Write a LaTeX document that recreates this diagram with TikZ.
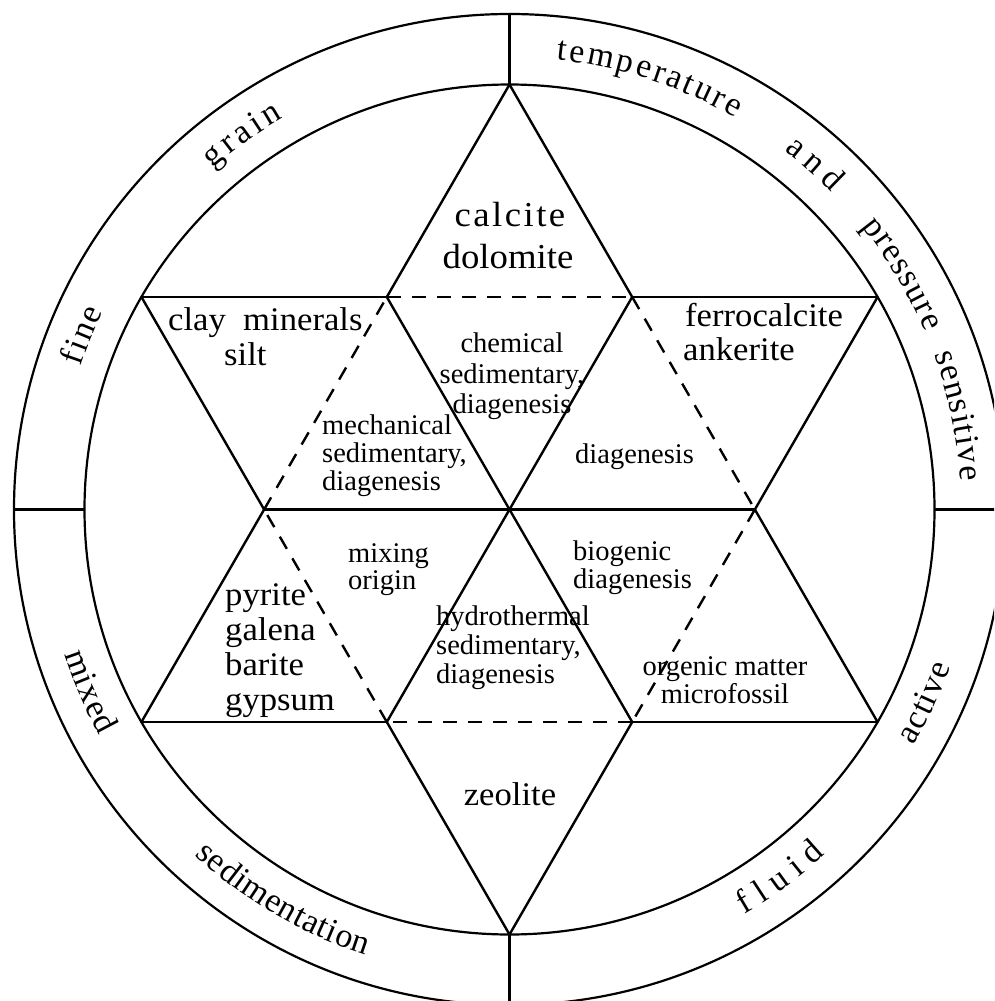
\documentclass[tikz,border=0pt]{standalone}
\usepackage{fontspec}
\setmainfont{Liberation Serif}
\newfontfamily\bigfam[FakeStretch=1.05]{Liberation Serif}
\newfontfamily\smallfam{Liberation Serif}
\newcommand\bigsz{\bigfam\fontsize{33}{35}\selectfont}
\newcommand\topsz{\bigfam\fontsize{35}{37}\selectfont}
\newcommand\smallsz{\smallfam\fontsize{28.5}{29}\selectfont}
\newcommand\ringsz{\fontsize{34}{36}\selectfont}
\usetikzlibrary{decorations.text}
\begin{document}
\begin{tikzpicture}[x=1pt,y=-1pt,
  solidln/.style={line width=2.4pt, line cap=round},
  dashln/.style={line width=2.4pt, dash pattern=on 14pt off 11pt},
  ringln/.style={line width=2.2pt},
  biglbl/.style={font=\bigsz, inner sep=0pt},
  toplbl/.style={font=\topsz, inner sep=0pt},
  smalllbl/.style={font=\smallsz, inner sep=0pt},
  toptxt/.style={decorate, decoration={text along path, text align={fit to path}, text={|\ringsz|#1}}},
]
\useasboundingbox (0,0) rectangle (994,1001);
\clip (0,0) rectangle (994,1001);
\coordinate (C) at (509.5,509.5);
% circles
\draw[ringln] (C) circle[radius=495.5];
\draw[ringln] (C) circle[radius=425];
% star vertices
\coordinate (V90) at (509.5,84.5);
\coordinate (V30) at (877.56,297);
\coordinate (V330) at (877.56,722);
\coordinate (V270) at (509.5,934.5);
\coordinate (V210) at (141.44,722);
\coordinate (V150) at (141.44,297);
% inner hexagon
\coordinate (H0) at (754.87,509.5);
\coordinate (H60) at (632.19,297);
\coordinate (H120) at (386.81,297);
\coordinate (H180) at (264.13,509.5);
\coordinate (H240) at (386.81,722);
\coordinate (H300) at (632.19,722);
% ring divisions
\coordinate (O90) at (509.5,14);
\coordinate (O270) at (509.5,1005);
\coordinate (O180) at (14,509.5);
\coordinate (O0) at (1005,509.5);
\coordinate (I180) at (84.5,509.5);
\coordinate (I0) at (934.5,509.5);
\draw[ringln] (V90) -- (O90);
\draw[ringln] (V270) -- (O270);
\draw[ringln] (I180) -- (O180);
\draw[ringln] (I0) -- (O0);
% solid star parts
\draw[solidln] (V90) -- (H120);
\draw[solidln] (H180) -- (V210);
\draw[solidln] (V210) -- (H240);
\draw[solidln] (H300) -- (V330);
\draw[solidln] (V330) -- (H0);
\draw[solidln] (H60) -- (V90);
\draw[solidln] (V150) -- (H120);
\draw[solidln] (H60) -- (V30);
\draw[solidln] (V30) -- (H0);
\draw[solidln] (H300) -- (V270);
\draw[solidln] (V270) -- (H240);
\draw[solidln] (H180) -- (V150);
% diagonals
\draw[solidln] (H180) -- (H0);
\draw[solidln] (H120) -- (H300);
\draw[solidln] (H60) -- (H240);
% dashed hexagon
\draw[dashln] (H120) -- (H60);
\draw[dashln] (H60) -- (H0);
\draw[dashln] (H0) -- (H300);
\draw[dashln] (H300) -- (H240);
\draw[dashln] (H240) -- (H180);
\draw[dashln] (H180) -- (H120);
% big labels
\node[toplbl, anchor=base] (calcite) at (510,226) {\addfontfeature{LetterSpace=7}calcite};
\node[toplbl, anchor=base] (dolomite) at (508,268) {dolomite};
\node[biglbl, anchor=base west] (clay) at (168,330) {clay\ \ minerals};
\node[biglbl, anchor=base west] (silt) at (224,365) {silt};
\node[biglbl, anchor=base west] (ferro) at (685,326) {ferrocalcite};
\node[biglbl, anchor=base west] (ank) at (683,360) {ankerite};
\node[biglbl, anchor=base west] (pyrite) at (225,605) {pyrite};
\node[biglbl, anchor=base west] (galena) at (225,640) {galena};
\node[biglbl, anchor=base west] (barite) at (225,675) {barite};
\node[biglbl, anchor=base west] (gypsum) at (225,710) {gypsum};
\node[biglbl, anchor=base] (zeolite) at (510,805) {zeolite};
% small labels
\node[smalllbl, anchor=base] (chem1) at (512,352) {chemical};
\node[smalllbl, anchor=base] (chem2) at (512,383) {sedimentary,};
\node[smalllbl, anchor=base] (chem3) at (512,413) {diagenesis};
\node[smalllbl, anchor=base west] (mech1) at (322,434) {mechanical};
\node[smalllbl, anchor=base west] (mech2) at (322,462) {sedimentary,};
\node[smalllbl, anchor=base west] (mech3) at (322,490) {diagenesis};
\node[smalllbl, anchor=base west] (diag) at (575,463) {diagenesis};
\node[smalllbl, anchor=base west] (mix1) at (348,562) {mixing};
\node[smalllbl, anchor=base west] (mix2) at (348,589) {origin};
\node[smalllbl, anchor=base west] (bio1) at (573,560) {biogenic};
\node[smalllbl, anchor=base west] (bio2) at (573,588) {diagenesis};
\node[smalllbl, anchor=base west] (hyd1) at (436,625) {hydrothermal};
\node[smalllbl, anchor=base west] (hyd2) at (436,654) {sedimentary,};
\node[smalllbl, anchor=base west] (hyd3) at (436,683) {diagenesis};
\node[smalllbl, anchor=base] (org1) at (725,675) {orgenic matter};
\node[smalllbl, anchor=base] (org2) at (725,703) {microfossil};
% ring texts
\begin{scope}[shift={(509.5pt,-509.5pt)}, x=1pt, y=1pt]
  \path[toptxt=grain] (131:452) arc[start angle=131, end angle=120, radius=452];
  \path[toptxt=fine] (161.5:452) arc[start angle=161.5, end angle=154, radius=452];
  \path[toptxt=temperature] (84:452) arc[start angle=84, end angle=60, radius=452];
  \path[toptxt=and] (52.6:452) arc[start angle=52.6, end angle=44.6, radius=452];
  \path[toptxt=pressure] (38.8:452) arc[start angle=38.8, end angle=23.1, radius=452];
  \path[toptxt=sensitive] (20:452) arc[start angle=20, end angle=3.6, radius=452];
  \path[toptxt=mixed] (198:468) arc[start angle=198, end angle=208.9, radius=468];
  \path[toptxt=sedimentation] (227.7:468) arc[start angle=227.7, end angle=252.1, radius=468];
  \path[toptxt=fluid] (300.2:468) arc[start angle=300.2, end angle=312.5, radius=468];
  \path[toptxt=active] (329.7:468) arc[start angle=329.7, end angle=340.4, radius=468];
\end{scope}
\end{tikzpicture}
\end{document}
